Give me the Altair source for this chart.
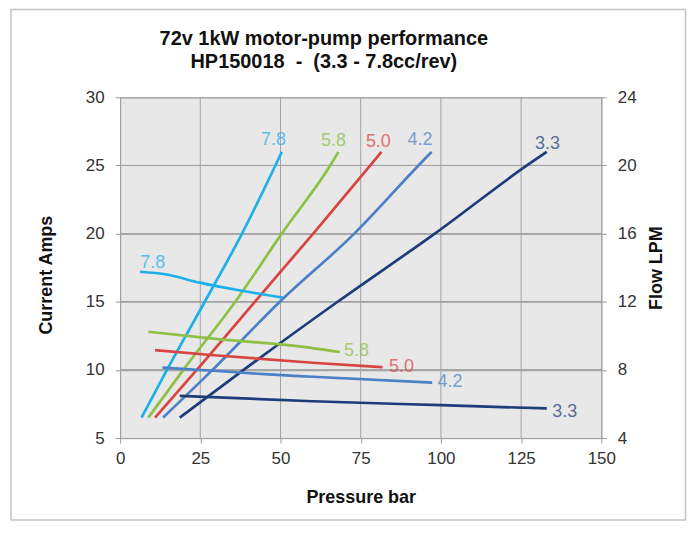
import altair as alt
import pandas as pd

# ---------------- data ----------------
series = ["7.8", "5.8", "5.0", "4.2", "3.3"]
colors = ["#1eb0e8", "#8dc044", "#d8443f", "#4b80c6", "#1c3d7a"]

# Current (Amps) vs pressure (bar), one curve per displacement (cc/rev)
cur_p = {
    "7.8": [6.7, 14.6, 26.4, 38.0, 48.4, 50.4],
    "5.8": [8.8, 19.7, 35.9, 50.4, 65.5, 68.1],
    "5.0": [10.9, 23.9, 42.0, 60.2, 78.0, 81.5],
    "4.2": [13.4, 28.8, 49.8, 73.0, 93.0, 97.1],
    "3.3": [18.6, 38.5, 67.8, 98.1, 126.8, 133.0],
}
cur_a = {
    "7.8": [6.5, 10, 15, 20, 25, 26],
    "5.8": [6.5, 10, 15, 20, 25, 26],
    "5.0": [6.5, 10, 15, 20, 25, 26],
    "4.2": [6.5, 10, 15, 20, 25, 26],
    "3.3": [6.5, 10, 15, 20, 25, 26],
}

# Flow (LPM) vs pressure (bar)
flow_p = {
    "7.8": [6.2, 14.5, 24.8, 39.3, 50.7],
    "5.8": [8.8, 29.0, 60.0, 68.5],
    "5.0": [10.9, 29.2, 60.0, 81.8],
    "4.2": [13.2, 29.0, 45.0, 60.0, 97.3],
    "3.3": [18.6, 60.0, 100.0, 133.0],
}
flow_l = {
    "7.8": [13.76, 13.6, 13.12, 12.6, 12.24],
    "5.8": [10.24, 9.84, 9.28, 9.05],
    "5.0": [9.16, 8.86, 8.42, 8.16],
    "4.2": [8.13, 7.95, 7.75, 7.6, 7.25],
    "3.3": [6.48, 6.16, 5.93, 5.74],
}

# Series labels (data coordinates)
cur_lab_p = [47.8, 66.5, 80.5, 93.5, 133.2]
cur_lab_a = [26.86, 26.8, 26.7, 26.86, 26.6]
flow_lab_p = [10.2, 73.7, 87.7, 102.8, 138.6]
flow_lab_l = [14.3, 9.1, 8.17, 7.26, 5.54]

x_ticks = [0, 25, 50, 75, 100, 125, 150]
amp_ticks = [5, 10, 15, 20, 25, 30]
lpm_ticks = [4, 8, 12, 16, 20, 24]

title_lines = ["72v 1kW motor-pump performance",
               "HP150018 \u00a0-\u00a0 (3.3 - 7.8cc/rev)"]

# ---------------- tables ----------------
cur_rows = []
for s in series:
    for i, (p, a) in enumerate(zip(cur_p[s], cur_a[s])):
        cur_rows.append({"series": s, "pressure": p, "amps": a, "order": i})
cur_df = pd.DataFrame(cur_rows)

flow_rows = []
for s in series:
    for i, (p, l) in enumerate(zip(flow_p[s], flow_l[s])):
        flow_rows.append({"series": s, "pressure": p, "lpm": l, "order": i})
flow_df = pd.DataFrame(flow_rows)

cur_lab_df = pd.DataFrame({"series": series, "pressure": cur_lab_p, "amps": cur_lab_a})
flow_lab_df = pd.DataFrame({"series": series, "pressure": flow_lab_p, "lpm": flow_lab_l})

# gridlines (vertical and horizontal) built from the tick arrays
grid_rows = []
for p in x_ticks[1:-1]:
    grid_rows.append({"pressure": p, "pressure_end": p,
                      "amps": amp_ticks[0], "amps_end": amp_ticks[-1]})
for a in amp_ticks[1:-1]:
    grid_rows.append({"pressure": x_ticks[0], "pressure_end": x_ticks[-1],
                      "amps": a, "amps_end": a})
grid_df = pd.DataFrame(grid_rows)
hgrid_df = pd.DataFrame({"amps": amp_ticks[1:-1],
                         "amps_end": amp_ticks[1:-1],
                         "pressure": [x_ticks[0]] * 4,
                         "pressure_end": [x_ticks[-1]] * 4})

FONT = "Liberation Sans"
W, H = 483, 342
GRID = "#a3a3a3"

x_scale = alt.Scale(domain=[0, 150], nice=False, zero=False)
amp_scale = alt.Scale(domain=[5, 30], nice=False, zero=False)
lpm_scale = alt.Scale(domain=[4, 24], nice=False, zero=False)
color = alt.Color("series:N", scale=alt.Scale(domain=series, range=colors), legend=None)

x_axis = alt.Axis(values=x_ticks, title="Pressure bar", grid=False, labelPadding=8,
                  labelFlush=False, titleY=65, titleBaseline="alphabetic")
amp_axis = alt.Axis(values=amp_ticks, orient="left", title="Current Amps", grid=False,
                    labelPadding=11, labelFlush=False, titleX=-69, titleY=178,
                    titleAngle=270, titleAlign="center", titleBaseline="alphabetic")
lpm_axis = alt.Axis(values=lpm_ticks, orient="right", title="Flow LPM", grid=True,
                    gridColor=GRID, gridWidth=1, gridOpacity=1,
                    labelPadding=11, labelFlush=False, titleX=60, titleY=171,
                    titleAngle=270, titleAlign="center", titleBaseline="alphabetic")


def X():
    return alt.X("pressure:Q", scale=x_scale, axis=x_axis)


grid = alt.Chart(grid_df).mark_rule(color=GRID, strokeWidth=1).encode(
    x=X(), x2="pressure_end:Q",
    y=alt.Y("amps:Q", scale=amp_scale, axis=amp_axis), y2="amps_end:Q",
)
hgrid = alt.Chart(hgrid_df).mark_rect(
    fill="transparent", stroke=GRID, strokeWidth=1
).encode(
    x=X(), x2="pressure_end:Q",
    y=alt.Y("amps:Q", scale=amp_scale, axis=None), y2="amps_end:Q",
)

cur_lines = alt.Chart(cur_df).mark_line(interpolate="monotone", strokeWidth=2.7).encode(
    x=X(),
    y=alt.Y("amps:Q", scale=amp_scale, axis=None),
    color=color,
    detail="series:N",
    order="order:Q",
)
cur_labels = alt.Chart(cur_lab_df).mark_text(
    font=FONT, fontSize=18, align="center", baseline="middle", opacity=0.72
).encode(
    x=X(),
    y=alt.Y("amps:Q", scale=amp_scale, axis=None),
    color=color,
    text="series:N",
)
flow_lines = alt.Chart(flow_df).mark_line(interpolate="monotone", strokeWidth=2.7).encode(
    x=X(),
    y=alt.Y("lpm:Q", scale=lpm_scale, axis=lpm_axis),
    color=color,
    detail="series:N",
    order="order:Q",
)
flow_labels = alt.Chart(flow_lab_df).mark_text(
    font=FONT, fontSize=18, align="center", baseline="middle", opacity=0.72
).encode(
    x=X(),
    y=alt.Y("lpm:Q", scale=lpm_scale, axis=None),
    color=color,
    text="series:N",
)

frame = alt.Chart(pd.DataFrame({"f": [0]})).mark_rect(
    fill="transparent", stroke="#c4c4c4", strokeWidth=1.5
).encode(x=alt.value(-109.5), x2=alt.value(567.5), y=alt.value(-88.2), y2=alt.value(424.3))

chart = alt.layer(
    grid, hgrid, cur_lines, cur_labels, flow_lines, flow_labels, frame
).resolve_scale(y="independent").properties(
    width=W,
    height=H,
    autosize=alt.AutoSizeParams(type="none"),
    padding={"left": 112.5, "top": 88.7, "right": 86, "bottom": 83},
    title=alt.TitleParams(
        text=title_lines, font=FONT, fontSize=20, fontWeight="bold", color="#111111",
        anchor="middle", dx=-37, offset=-64, lineHeight=24,
    ),
).configure(
    background="white"
).configure_view(
    fill="#e8e8e8", stroke="#a0a0a0", strokeWidth=1
).configure_axis(
    labelFont=FONT, labelFontSize=17, labelColor="#333333",
    titleFont=FONT, titleFontSize=18, titleFontWeight="bold", titleColor="#111111",
    tickColor="#9a9a9a", tickSize=5, domainColor="#a0a0a0",
)

chart.save("out.html", embed_options={"renderer": "svg", "actions": False})
